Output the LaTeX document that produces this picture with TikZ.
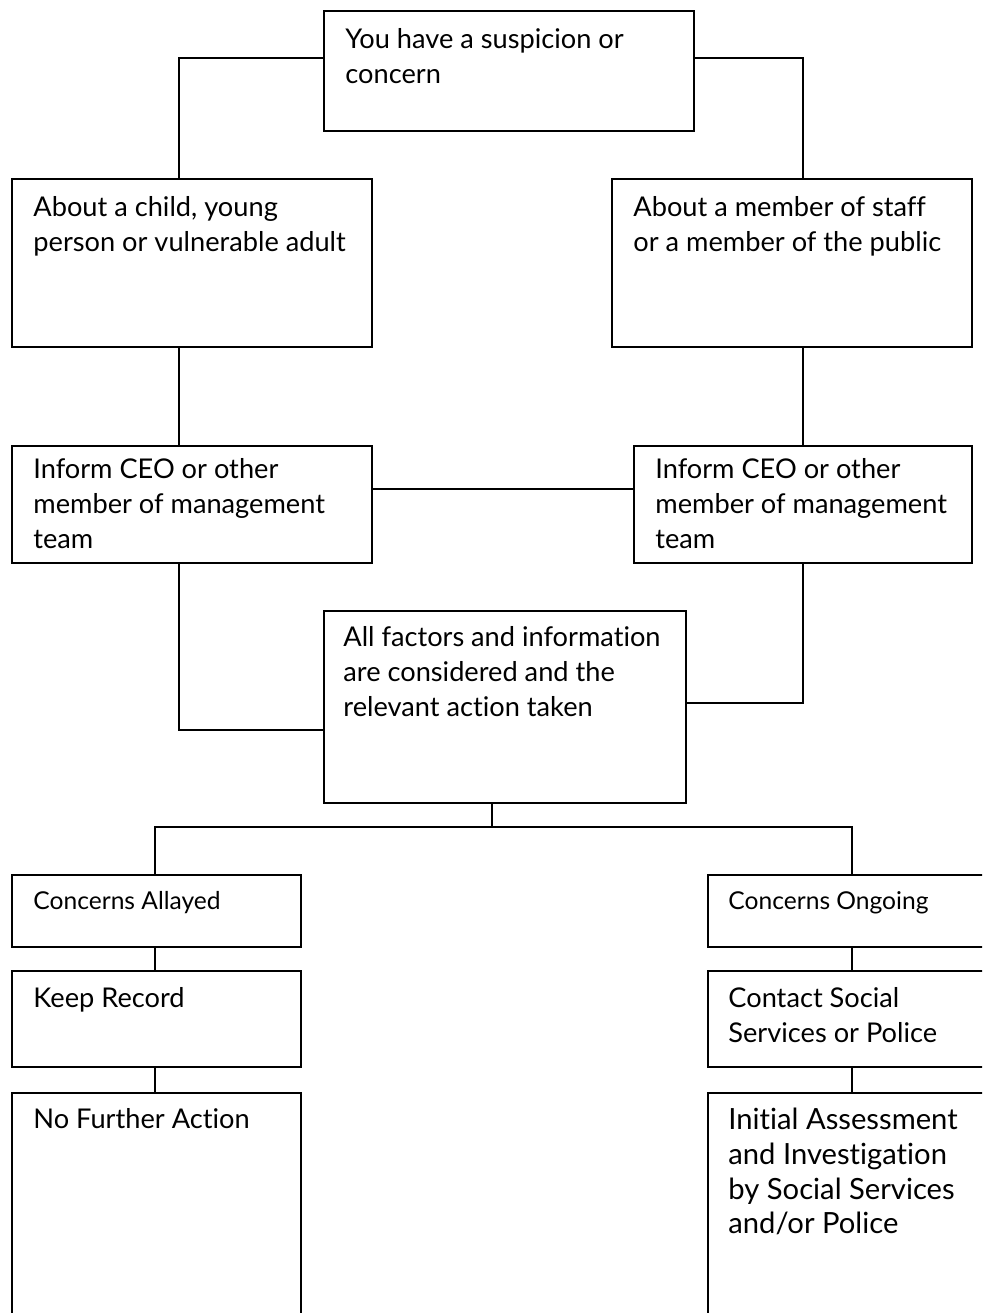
\documentclass[tikz,border=0pt]{standalone}
\usepackage{fontspec}
\setmainfont{Lato}[Ligatures=NoCommon]
\usetikzlibrary{calc}
\tikzset{
  box/.style 2 args={draw, line width=0.9pt, anchor=north west, inner sep=0pt,
    minimum width=#1*0.5pt, minimum height=#2*0.5pt},
  lbl/.style={anchor=north west, inner sep=0pt, align=left,
    font=\fontsize{13.6}{17.5}\selectfont},
  lblsmall/.style={lbl, font=\fontsize{12.3}{17.5}\selectfont},
  lblbig/.style={lbl, font=\fontsize{14.6}{17.3}\selectfont},
  link/.style={line width=0.9pt}
}
\begin{document}
\begin{tikzpicture}[x=0.5pt, y=-0.5pt]
  \useasboundingbox (0,0) rectangle (982,1313);
  \clip (0,0) rectangle (982,1313);
  % boxes
  \node[box={370}{120}] (top)      at (323,10)   {};
  \node[box={360}{168}] (aboutL)   at (11,178)   {};
  \node[box={360}{168}] (aboutR)   at (611,178)  {};
  \node[box={360}{117}] (informL)  at (11,445)   {};
  \node[box={338}{117}] (informR)  at (633,445)  {};
  \node[box={362}{192}] (center)   at (323,610)  {};
  \node[box={289}{72}]  (allayed)  at (11,874)   {};
  \node[box={289}{96}]  (keep)     at (11,970)   {};
  \node[box={289}{300}] (nfa)      at (11,1092)  {};
  \node[box={300}{72}]  (ongoing)  at (707,874)  {};
  \node[box={300}{96}]  (contact)  at (707,970)  {};
  \node[box={300}{300}] (initial)  at (707,1092) {};
  % texts
  \node[lbl] (topT) at ($(top.north west)+(22,18)$) {You have a suspicion or\\concern};
  \node[lbl] (aboutLT) at ($(aboutL.north west)+(22,18)$) {About a child, young\\person or vulnerable adult};
  \node[lbl] (aboutRT) at ($(aboutR.north west)+(22,18)$) {About a member of staff\\or a member of the public};
  \node[lbl] (informLT) at ($(informL.north west)+(22,13)$) {Inform CEO or other\\member of management\\team};
  \node[lbl] (informRT) at ($(informR.north west)+(22,13)$) {Inform CEO or other\\member of management\\team};
  \node[lbl] (centerT) at ($(center.north west)+(20,16)$) {All factors and information\\are considered and the\\relevant action taken};
  \node[lblsmall] (allayedT) at ($(allayed.north west)+(22,17)$) {Concerns Allayed};
  \node[lbl] (keepT) at ($(keep.north west)+(22,17)$) {Keep Record};
  \node[lbl] (nfaT) at ($(nfa.north west)+(22,16)$) {No Further Action};
  \node[lblsmall] (ongoingT) at ($(ongoing.north west)+(21,17)$) {Concerns Ongoing};
  \node[lbl] (contactT) at ($(contact.north west)+(21,17)$) {Contact Social\\Services or Police};
  \node[lblbig] (initialT) at ($(initial.north west)+(21,16)$) {Initial Assessment\\and Investigation\\by Social Services\\and/or Police};
  % connectors
  \draw[link] ($(top.north west)+(0,48)$) -| ($(aboutL.north west)+(168,0)$);
  \draw[link] ($(top.north east)+(0,48)$) -| ($(aboutR.north west)+(192,0)$);
  \draw[link] ($(aboutL.south west)+(168,0)$) -- ($(informL.north west)+(168,0)$);
  \draw[link] ($(aboutR.south west)+(192,0)$) -- ($(informR.north west)+(170,0)$);
  \draw[link] ($(informL.north east)+(0,44)$) -- ($(informR.north west)+(0,44)$);
  \draw[link] ($(informL.south west)+(168,0)$) |- ($(center.north west)+(0,120)$);
  \draw[link] ($(informR.south west)+(170,0)$) |- ($(center.north east)+(0,93)$);
  \draw[link] ($(center.south west)+(169,0)$) -- ++(0,23) coordinate (split);
  \draw[link] ($(allayed.north west)+(144,0)$) |- (split) -| ($(ongoing.north west)+(145,0)$);
  \draw[link] ($(allayed.south west)+(144,0)$) -- ($(keep.north west)+(144,0)$);
  \draw[link] ($(keep.south west)+(144,0)$) -- ($(nfa.north west)+(144,0)$);
  \draw[link] ($(ongoing.south west)+(145,0)$) -- ($(contact.north west)+(145,0)$);
  \draw[link] ($(contact.south west)+(145,0)$) -- ($(initial.north west)+(145,0)$);
\end{tikzpicture}
\end{document}
